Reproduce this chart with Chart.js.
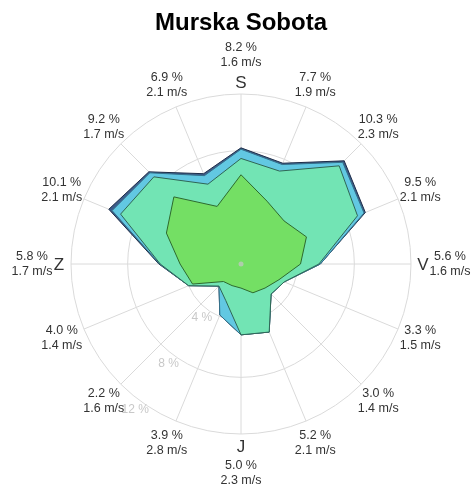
<!DOCTYPE html>
<html>
<head>
<meta charset="utf-8">
<script src="https://cdn.jsdelivr.net/npm/chart.js@4.4.0/dist/chart.umd.min.js"></script>
<style>
  html, body { margin: 0; padding: 0; background: #fff; }
</style>
</head>
<body>
<canvas id="rose" width="476" height="492"></canvas>
<script>
// smeri (od severa v smeri urinega kazalca)
const directions = ['S', 'SSV', 'SV', 'VSV', 'V', 'VJV', 'JV', 'JJV', 'J', 'JJZ', 'JZ', 'ZJZ', 'Z', 'ZSZ', 'SZ', 'SSZ'];
const cardinals = { 0: 'S', 4: 'V', 8: 'J', 12: 'Z' };

// pogostost smeri (%) in povprečna hitrost (m/s)
const frequency = [8.2, 7.7, 10.3, 9.5, 5.6, 3.3, 3.0, 5.2, 5.0, 3.9, 2.2, 4.0, 5.8, 10.1, 9.2, 6.9];
const meanSpeed = [1.6, 1.9, 2.3, 2.1, 1.6, 1.5, 1.4, 2.1, 2.3, 2.8, 1.6, 1.4, 1.7, 2.1, 1.7, 2.1];

// kumulativni deleži po hitrostnih razredih (%)
const classLow  = [6.3, 4.8, 4.3, 5.0, 4.2, 2.9, 2.4, 2.2, 1.7, 1.65, 1.75, 3.7, 4.3, 5.7, 6.7, 4.4];
const classMid  = [7.45, 7.1, 9.8, 8.9, 5.5, 3.3, 3.0, 5.2, 5.0, 2.8, 2.2, 4.0, 5.7, 9.2, 8.7, 6.1];
const classHigh = [8.1, 7.6, 10.15, 9.4, 5.6, 3.3, 3.0, 5.2, 5.0, 3.9, 2.2, 4.0, 5.75, 9.85, 9.1, 6.75];

const ringTicks = [4, 8, 12];

const FONT = '"Liberation Sans", Arial, sans-serif';

// napisi okrog rože
const roseLabels = {
  id: 'roseLabels',
  afterDraw(chart) {
    const scale = chart.scales.r;
    const ctx = chart.ctx;
    ctx.save();

    // brezvetrje - sivа pika v sredini
    ctx.fillStyle = 'rgba(190,200,190,0.8)';
    ctx.beginPath();
    ctx.arc(scale.xCenter, scale.yCenter, 2.5, 0, Math.PI * 2);
    ctx.fill();

    ctx.textAlign = 'center';
    ctx.textBaseline = 'middle';

    // oznake krogov
    ctx.fillStyle = '#c8c8c8';
    ctx.font = '12px ' + FONT;
    const ringAngle = 216 * Math.PI / 180;
    ringTicks.forEach(v => {
      const p = scale.getPointPosition(0, scale.getDistanceFromCenterForValue(v) + 10, ringAngle);
      ctx.fillText(v + ' %', p.x, p.y);
    });

    // smeri + vrednosti
    ctx.fillStyle = '#333';
    directions.forEach((d, i) => {
      const isCardinal = cardinals[i] !== undefined;
      if (isCardinal) {
        const lp = scale.getPointPosition(i, 182);
        ctx.font = '17px ' + FONT;
        ctx.fillText(cardinals[i], lp.x, lp.y + 1);
      }
      const p = scale.getPointPosition(i, isCardinal ? 209 : 194);
      ctx.font = '12.5px ' + FONT;
      ctx.fillText(frequency[i].toFixed(1) + ' %', p.x, p.y - 7.5);
      ctx.fillText(meanSpeed[i].toFixed(1) + ' m/s', p.x, p.y + 7.5);
    });
    ctx.restore();
  }
};

new Chart(document.getElementById('rose'), {
  type: 'radar',
  data: {
    labels: directions,
    datasets: [
      { data: classLow, backgroundColor: '#74df64', borderColor: '#2e6a2e', fill: 'origin' },
      { data: classMid, backgroundColor: '#72e4b4', borderColor: '#2f6655', fill: 'origin' },
      { data: classHigh, backgroundColor: '#62c8e2', borderColor: '#35708a', fill: 'origin' },
      { data: frequency, backgroundColor: '#3d5c8a', borderColor: '#1d2d48', fill: 'origin' }
    ]
  },
  options: {
    responsive: false,
    animation: false,
    layout: { padding: { left: 71, right: 65, top: 0, bottom: 58 } },
    elements: {
      line: { tension: 0, borderWidth: 1 },
      point: { radius: 0 }
    },
    plugins: {
      legend: { display: false },
      tooltip: { enabled: false },
      title: {
        display: true,
        text: 'Murska Sobota',
        color: '#000',
        font: { family: FONT, size: 24, weight: 'bold', lineHeight: 1 },
        padding: { top: 11, bottom: 59 }
      }
    },
    scales: {
      r: {
        min: 0,
        max: 12,
        ticks: { display: false, stepSize: 4 },
        pointLabels: { display: false },
        grid: { circular: true, color: '#dadada' },
        angleLines: { color: '#dadada' }
      }
    }
  },
  plugins: [roseLabels]
});
</script>
</body>
</html>
